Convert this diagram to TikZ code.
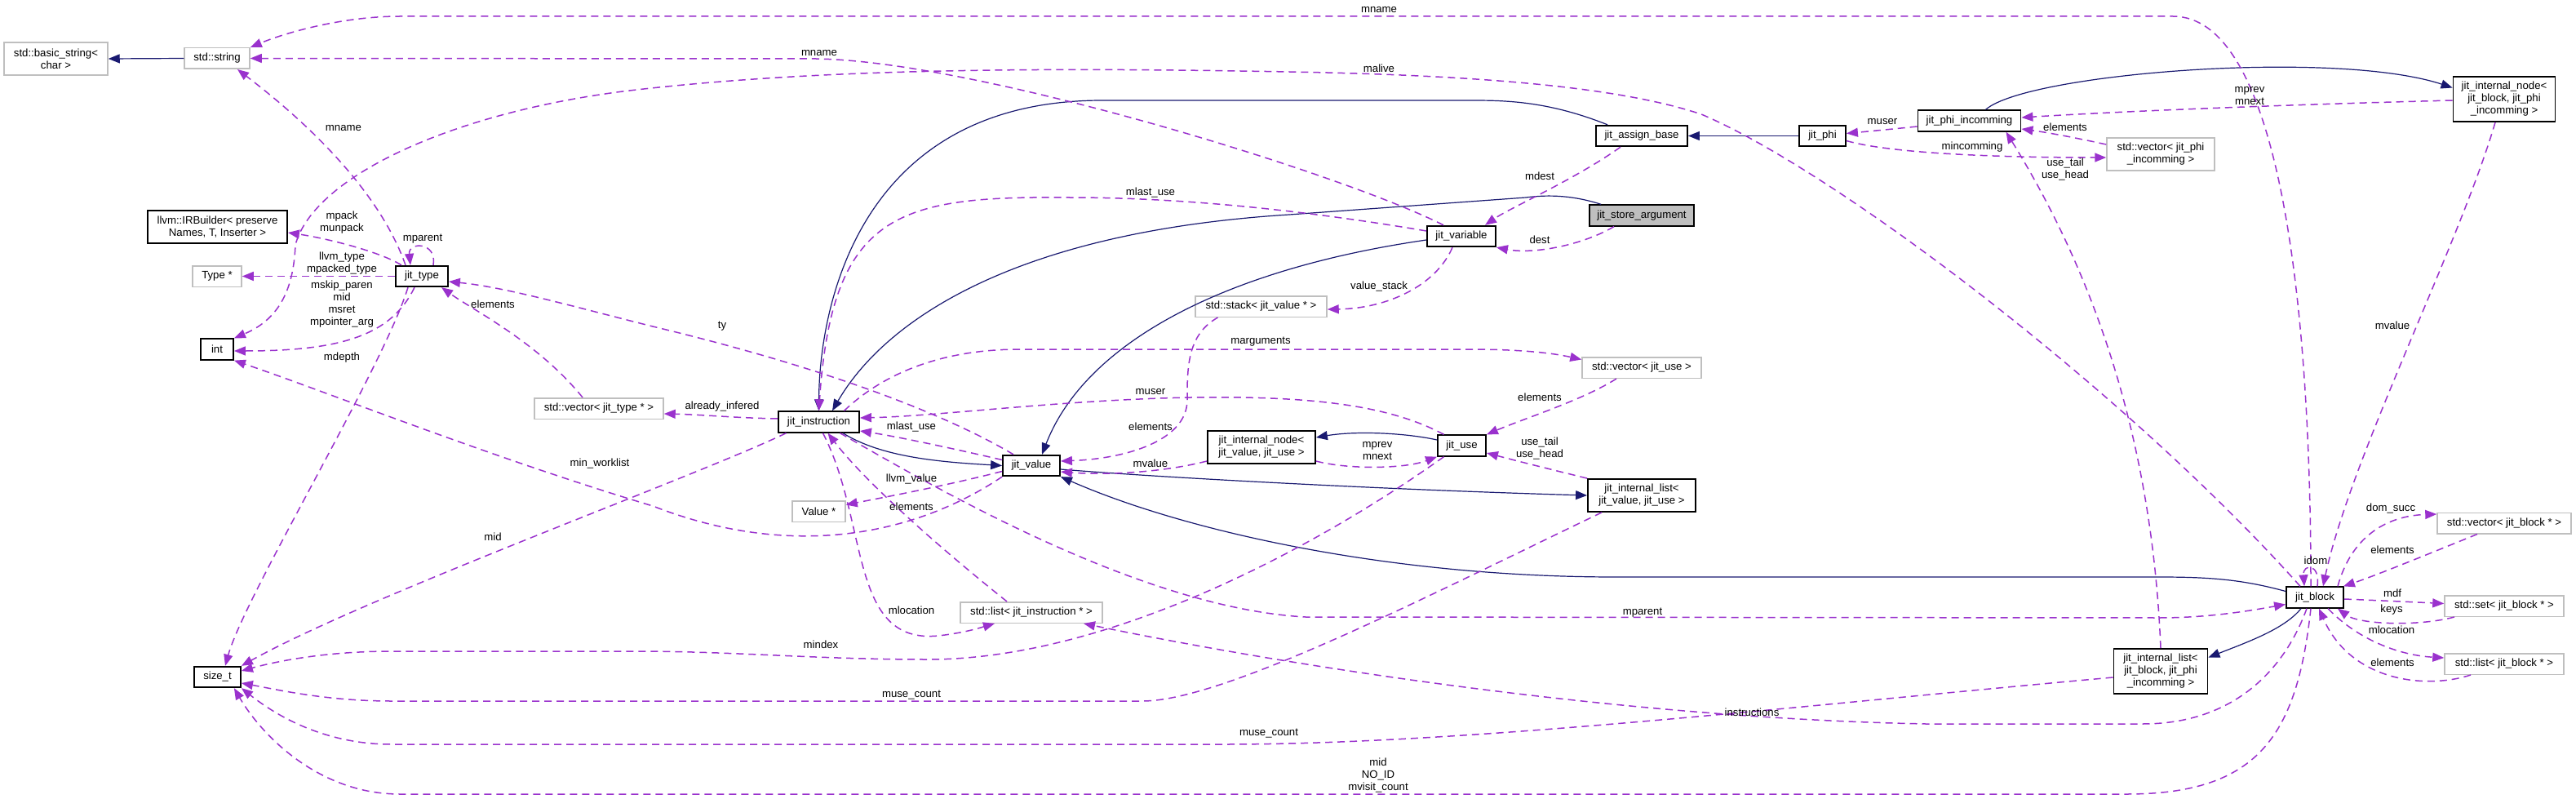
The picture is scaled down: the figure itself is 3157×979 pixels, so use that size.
\documentclass[tikz,border=0pt]{standalone}
\usepackage{fontspec}
\setmainfont{Liberation Sans}
\usetikzlibrary{arrows.meta}
\definecolor{edgenavy}{HTML}{191970}
\definecolor{edgeorchid}{HTML}{9A32CD}
\definecolor{boxgray}{HTML}{BFBFBF}
\newcommand{\diafont}{\fontsize{13.2}{15}\selectfont}

\begin{document}
\begin{tikzpicture}[x=1pt,y=-1pt,
  cls/.style={draw=black,line width=1.8pt,fill=white,inner sep=0pt,minimum height=25.5pt,align=center,font=\diafont},
  ext/.style={cls,draw=boxgray,line width=1.5pt},
  lbl/.style={inner sep=0pt,align=center,font=\diafont},
  inh/.style={edgenavy,line width=1.2pt,-{Triangle[length=14pt,width=11pt]}},
  mem/.style={edgeorchid,line width=1.5pt,dash pattern=on 9pt off 6pt,-{Triangle[length=14pt,width=11pt]}}]
  \useasboundingbox (0,0) rectangle (3157,979);

  \node[ext,minimum width=127pt,minimum height=40pt] (basic) at (68.5,72) {std::basic\_string<\\char >};
  \node[ext,minimum width=80pt] (stdstring) at (266,71.5) {std::string};
  \node[cls,minimum width=171pt,minimum height=40pt] (irbuilder) at (266.5,278) {llvm::IRBuilder< preserve\\Names, T, Inserter >};
  \node[ext,minimum width=60pt] (typeptr) at (266,338.5) {Type *};
  \node[cls,minimum width=64pt] (jittype) at (517,338.5) {jit\_type};
  \node[cls,minimum width=40pt] (int) at (266,428) {int};
  \node[cls,minimum width=57pt] (sizet) at (266.5,829.5) {size\_t};
  \node[ext,minimum width=158pt] (vectype) at (734,500.5) {std::vector< jit\_type * >};
  \node[cls,minimum width=99pt] (instr) at (1003.5,517) {jit\_instruction};
  \node[cls,minimum width=70pt] (value) at (1264,570.5) {jit\_value};
  \node[ext,minimum width=65pt] (valueptr) at (1003.5,626.5) {Value *};
  \node[ext,minimum width=174pt] (listinstr) at (1264,750.5) {std::list< jit\_instruction * >};
  \node[ext,minimum width=161pt] (stack) at (1545.5,375.5) {std::stack< jit\_value * >};
  \node[cls,minimum width=132pt,minimum height=40pt] (nodevalue) at (1546,548) {jit\_internal\_node<\\jit\_value, jit\_use >};
  \node[cls,minimum width=59pt] (use) at (1791.5,546) {jit\_use};
  \node[cls,minimum width=132pt,minimum height=40pt] (listvalue) at (2012,607) {jit\_internal\_list<\\jit\_value, jit\_use >};
  \node[ext,minimum width=146pt] (vecuse) at (2012,450.5) {std::vector< jit\_use >};
  \node[cls,minimum width=84pt] (variable) at (1791,289.5) {jit\_variable};
  \node[cls,minimum width=128pt,fill=boxgray] (store) at (2012,264) {jit\_store\_argument};
  \node[cls,minimum width=112pt] (assign) at (2012,166.5) {jit\_assign\_base};
  \node[cls,minimum width=57pt] (phi) at (2233.5,166.5) {jit\_phi};
  \node[cls,minimum width=126pt] (phiinc) at (2413.5,148) {jit\_phi\_incomming};
  \node[ext,minimum width=132pt,minimum height=40pt] (vecphi) at (2648,189) {std::vector< jit\_phi\\\_incomming >};
  \node[cls,minimum width=125pt,minimum height=55pt] (nodeblock) at (3069,121.5) {jit\_internal\_node<\\jit\_block, jit\_phi\\\_incomming >};
  \node[cls,minimum width=70pt] (block) at (2837,732) {jit\_block};
  \node[cls,minimum width=115pt,minimum height=55pt] (listblock) at (2648,822.5) {jit\_internal\_list<\\jit\_block, jit\_phi\\\_incomming >};
  \node[ext,minimum width=164pt] (vecblock) at (3069,641) {std::vector< jit\_block * >};
  \node[ext,minimum width=146pt] (setblock) at (3069,742.5) {std::set< jit\_block * >};
  \node[ext,minimum width=146pt] (lstblock) at (3069,813.5) {std::list< jit\_block * >};

  \draw[inh] (stdstring.west) -- (basic.east);
  \draw[inh] (phi.west) -- (assign.east);
  \draw[inh] ([xshift=15pt]assign.north west) .. controls (1900,125) and (1850,123) .. (1805,123) -- (1351,123) .. controls (1050,123) and (1004,380) .. (instr.north);
  \draw[inh] ([xshift=15pt]store.north west) .. controls (1930,240) and (1900,238) .. (1870,242) -- (1580,263) .. controls (1230,285) and (1080,400) .. ([xshift=16.5pt]instr.north);
  \draw[inh] ([yshift=-4.5pt]variable.west) .. controls (1500,330) and (1330,420) .. ([xshift=13pt]value.north);
  \draw[inh] ([xshift=29.5pt]instr.south) .. controls (1080,560) and (1150,566) .. (value.west);
  \draw[inh] ([yshift=-4.5pt]value.east) .. controls (1420,585) and (1700,600) .. (listvalue.west);
  \draw[inh] ([yshift=7.5pt]block.west) .. controls (2748,710) and (2708,707) .. (2646,707) -- (1980,707) .. controls (1700,707) and (1450,650) .. (value.south east);
  \draw[inh] ([yshift=7pt]use.west) .. controls (1720,530) and (1660,528) .. ([yshift=12pt]nodevalue.east);
  \draw[inh] ([xshift=20pt]phiinc.north) .. controls (2483,90) and (2861,60) .. ([yshift=14pt]nodeblock.west);
  \draw[inh] ([xshift=-17pt]block.south) .. controls (2800,770) and (2759,785) .. ([yshift=17pt]listblock.east);

  \draw[mem] ([xshift=-5pt]block.north) .. controls (2832,350) and (2789,20) .. (2663,20) -- (490,20) .. controls (420,20) and (350,40) .. (stdstring.north east);
  \draw[mem] ([xshift=-22pt]variable.north) .. controls (1650,215) and (1200,75) .. (1000,72) -- (stdstring.east);
  \draw[mem] ([xshift=-18pt]block.north) .. controls (2606,480) and (2250,210) .. (2085,140) .. controls (1980,105) and (1800,92) .. (1580,88) .. controls (1250,82) and (1000,85) .. (780,110) .. controls (560,135) and (385,215) .. (362,300) .. controls (360,350) and (345,390) .. (int.north east);
  \draw[mem] ([xshift=-9pt]jittype.south) .. controls (480,410) and (420,430) .. ([yshift=-2pt]int.east);
  \draw[mem] (value.south west) .. controls (1130,650) and (980,690) .. (800,620) .. controls (600,560) and (400,480) .. (int.south east);
  \draw[mem] ([xshift=-40pt]instr.south) .. controls (850,585) and (450,730) .. (sizet.north east);
  \draw[mem] ([xshift=-17pt]jittype.south) .. controls (470,450) and (300,730) .. ([xshift=9.5pt]sizet.north);
  \draw[mem] ([xshift=-22pt]use.south) .. controls (1600,680) and (1350,808) .. (1137,808) .. controls (1000,808) and (900,798) .. (780,798) -- (480,798) .. controls (400,798) and (340,810) .. ([yshift=7.5pt]sizet.east);
  \draw[mem] ([xshift=-49pt]listvalue.south) .. controls (1750,730) and (1500,859) .. (1400,859) -- (480,859) .. controls (400,859) and (340,845) .. ([yshift=-7.5pt]sizet.east);
  \draw[mem] ([yshift=-7.5pt]listblock.west) .. controls (2200,865) and (1800,912) .. (1500,912) -- (480,912) .. controls (390,912) and (330,870) .. (sizet.south east);
  \draw[mem] ([xshift=-5pt]block.south) .. controls (2815,900) and (2769,973) .. (2606,973) -- (490,973) .. controls (390,973) and (320,900) .. ([xshift=-9pt]sizet.south east);
  \draw[mem] ([xshift=-20pt]jittype.north) .. controls (460,220) and (350,130) .. ([xshift=25pt]stdstring.south);
  \draw[mem] ([xshift=14pt]jittype.north) .. controls (536,296) and (500,296) .. ([xshift=-14pt]jittype.north);
  \draw[mem] ([xshift=-25pt]jittype.north) .. controls (465,308) and (400,292) .. ([yshift=-7pt]irbuilder.east);
  \draw[mem] (jittype.west) -- (typeptr.east);
  \draw[mem] ([xshift=-20pt]vectype.north) .. controls (660,420) and (580,380) .. ([xshift=24pt]jittype.south);
  \draw[mem] ([yshift=4pt]instr.west) .. controls (900,512) and (860,508) .. ([yshift=-6.5pt]vectype.east);
  \draw[mem] ([xshift=-22pt]value.north) .. controls (1180,520) and (1050,460) .. (800,400) .. controls (700,375) and (620,352) .. ([yshift=-6.5pt]jittype.east);
  \draw[mem] ([yshift=7pt]value.west) .. controls (1170,550) and (1100,535) .. ([yshift=-11pt]instr.east);
  \draw[mem] ([yshift=6.5pt]variable.west) .. controls (1600,258) and (1450,242) .. (1311,242) .. controls (1100,240) and (1020,260) .. (instr.north);
  \draw[mem] ([xshift=-22pt]use.north) .. controls (1700,495) and (1600,485) .. (1459,487) .. controls (1300,490) and (1150,510) .. ([yshift=5pt]instr.east);
  \draw[mem] ([xshift=31pt]instr.north) .. controls (1080,460) and (1150,428) .. (1250,428) -- (1800,428) .. controls (1860,428) and (1900,432) .. ([yshift=10pt]vecuse.west);
  \draw[mem] ([xshift=-53pt]stack.south) .. controls (1455,410) and (1455,450) .. (1455,490) .. controls (1455,540) and (1380,562) .. ([yshift=5.5pt]value.east);
  \draw[mem] ([yshift=-17pt]nodevalue.west) .. controls (1420,580) and (1350,582) .. ([yshift=-7.5pt]value.east);
  \draw[mem] ([xshift=-11pt]variable.south) .. controls (1760,350) and (1700,378) .. ([yshift=-3.5pt]stack.east);
  \draw[mem] ([xshift=-26pt]assign.south) .. controls (1930,220) and (1850,255) .. ([xshift=29pt]variable.north);
  \draw[mem] ([xshift=-34pt]store.south) .. controls (1940,300) and (1880,312) .. (variable.south east);
  \draw[mem] ([xshift=-31pt]vecuse.south) .. controls (1940,490) and (1870,512) .. (use.north east);
  \draw[mem] ([yshift=-17pt]nodevalue.east) .. controls (1650,575) and (1720,575) .. (use.south west);
  \draw[mem] (listvalue.north west) .. controls (1900,575) and (1860,565) .. ([yshift=-9pt]use.east);
  \draw[mem] ([yshift=-7pt]phiinc.west) .. controls (2320,158) and (2290,161) .. ([yshift=3pt]phi.east);
  \draw[mem] ([yshift=-6pt]phi.east) .. controls (2310,186) and (2422,193) .. ([yshift=-4pt]vecphi.west);
  \draw[mem] ([yshift=-1.5pt]nodeblock.west) .. controls (2810,128) and (2606,136) .. ([yshift=4pt]phiinc.east);
  \draw[mem] ([yshift=12pt]vecphi.west) .. controls (2549,170) and (2514,163) .. ([yshift=-10pt]phiinc.east);
  \draw[mem] (listblock.north) .. controls (2636,500) and (2544,300) .. ([xshift=45pt]phiinc.south);
  \draw[mem] ([xshift=-11pt]nodeblock.south) .. controls (3014,300) and (2881,560) .. ([xshift=10pt]block.north);
  \draw[mem] ([xshift=3pt]block.north) .. controls (2844,690) and (2822,690) .. ([xshift=-13pt]block.north);
  \draw[mem] ([xshift=28pt]block.north) .. controls (2881,660) and (2922,632) .. ([yshift=11pt]vecblock.west);
  \draw[mem] ([xshift=-33pt]vecblock.south) .. controls (2973,680) and (2912,705) .. ([xshift=-1pt]block.north east);
  \draw[mem] ([yshift=-2pt]block.east) .. controls (2922,736) and (2963,738) .. ([yshift=3pt]setblock.west);
  \draw[mem] ([xshift=-61pt]setblock.south) .. controls (2963,768) and (2891,765) .. ([xshift=-8pt]block.south east);
  \draw[mem] ([xshift=16pt]block.south) .. controls (2891,785) and (2942,803) .. ([yshift=7.5pt]lstblock.west);
  \draw[mem] ([xshift=-41pt]lstblock.south) .. controls (2973,845) and (2881,835) .. ([xshift=5pt]block.south);
  \draw[mem] ([xshift=26pt]instr.south) .. controls (1150,600) and (1400,745) .. (1600,756) -- (2646,757) .. controls (2708,757) and (2759,748) .. ([yshift=-8.5pt]block.west);
  \draw[mem] ([xshift=-10pt]block.south) .. controls (2800,820) and (2738,887) .. (2626,887) -- (2360,887) .. controls (2000,880) and (1600,820) .. ([xshift=64pt]listinstr.south);
  \draw[mem] ([xshift=-30pt]listinstr.north) .. controls (1150,670) and (1060,590) .. ([xshift=11pt]instr.south);
  \draw[mem] ([xshift=5pt]instr.south) .. controls (1065,640) and (1040,790) .. (1150,779) .. controls (1185,775) and (1205,768) .. ([xshift=-45pt]listinstr.south);
  \draw[mem] ([yshift=-7pt]value.west) .. controls (1160,595) and (1080,610) .. ([yshift=8pt]valueptr.east);

  \node[lbl] (l-mname1) at (1690,12) {mname};
  \node[lbl] (l-mname2) at (1004,65) {mname};
  \node[lbl] (l-mname3) at (421,157) {mname};
  \node[lbl] (l-malive) at (1690,84) {malive};
  \node[lbl] (l-mparent1) at (518,293) {mparent};
  \node[lbl] (l-mpack) at (419,272.5) {mpack\\munpack};
  \node[lbl] (l-llvmtype) at (419,323) {llvm\_type\\mpacked\_type};
  \node[lbl] (l-mskip) at (419,373) {mskip\_paren\\mid\\msret\\mpointer\_arg};
  \node[lbl] (l-mdepth) at (419,438) {mdepth};
  \node[lbl] (l-elem1) at (604,373) {elements};
  \node[lbl] (l-ty) at (885,400) {ty};
  \node[lbl] (l-infered) at (885,498) {already\_infered};
  \node[lbl] (l-mlast1) at (1410,236) {mlast\_use};
  \node[lbl] (l-margs) at (1545,419) {marguments};
  \node[lbl] (l-muser1) at (1410,480) {muser};
  \node[lbl] (l-mdest) at (1887,216) {mdest};
  \node[lbl] (l-dest) at (1887,294) {dest};
  \node[lbl] (l-vstack) at (1690,351) {value\_stack};
  \node[lbl] (l-elem2) at (1887,487) {elements};
  \node[lbl] (l-muser2) at (2307,149) {muser};
  \node[lbl] (l-mprev1) at (2757,118) {mprev\\mnext};
  \node[lbl] (l-elem3) at (2531,156) {elements};
  \node[lbl] (l-mincom) at (2417,180) {mincomming};
  \node[lbl] (l-usetail1) at (2531,207.5) {use\_tail\\use\_head};
  \node[lbl] (l-mvalue1) at (2932,399) {mvalue};
  \node[lbl] (l-mlast2) at (1117,523) {mlast\_use};
  \node[lbl] (l-elem4) at (1410,523) {elements};
  \node[lbl] (l-mvalue2) at (1410,568) {mvalue};
  \node[lbl] (l-llvmval) at (1117,587) {llvm\_value};
  \node[lbl] (l-elem5) at (1117,621) {elements};
  \node[lbl] (l-mloc1) at (1117,748) {mlocation};
  \node[lbl] (l-mindex) at (1006,790) {mindex};
  \node[lbl] (l-usecount1) at (1117,852) {muse\_count};
  \node[lbl] (l-usecount2) at (1555,899) {muse\_count};
  \node[lbl] (l-mid1) at (1689,950) {mid\\NO\_ID\\mvisit\_count};
  \node[lbl] (l-mid2) at (604,658) {mid};
  \node[lbl] (l-worklist) at (735,568) {min\_worklist};
  \node[lbl] (l-mprev2) at (1688,552.5) {mprev\\mnext};
  \node[lbl] (l-usetail2) at (1887,549.5) {use\_tail\\use\_head};
  \node[lbl] (l-mparent2) at (2013,751) {mparent};
  \node[lbl] (l-instrs) at (2147,873) {instructions};
  \node[lbl] (l-idom) at (2838,687) {idom};
  \node[lbl] (l-domsucc) at (2930,623) {dom\_succ};
  \node[lbl] (l-elem6) at (2932,674) {elements};
  \node[lbl] (l-mdf) at (2932,727) {mdf};
  \node[lbl] (l-keys) at (2931,747) {keys};
  \node[lbl] (l-mloc2) at (2931,772) {mlocation};
  \node[lbl] (l-elem7) at (2932,812) {elements};
\end{tikzpicture}
\end{document}
